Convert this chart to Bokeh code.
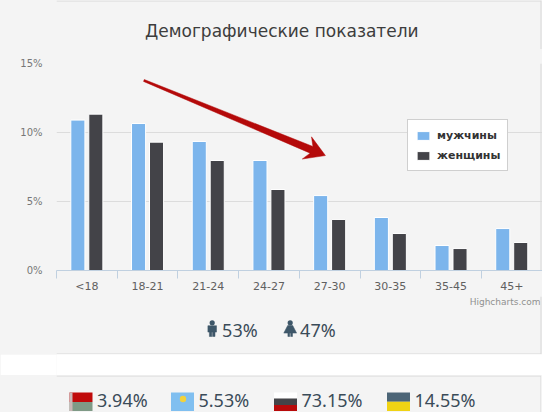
import math
import numpy as np
from bokeh.plotting import figure
from bokeh.models import (Range1d, FixedTicker, Legend, LegendItem,
                          ColumnDataSource, PrintfTickFormatter)
from bokeh.transform import dodge
from bokeh.layouts import column
from bokeh.embed import file_html
from bokeh.resources import INLINE
from bokeh.core.properties import value

# ---------------- data ----------------
title_text = "Демографические показатели"
age_groups = ["<18", "18-21", "21-24", "24-27", "27-30", "30-35", "35-45", "45+"]
men = [10.9, 10.65, 9.35, 7.97, 5.43, 3.84, 1.81, 3.04]
women = [11.33, 9.3, 7.97, 5.87, 3.7, 2.68, 1.59, 2.03]
series_names = ["мужчины", "женщины"]
y_ticks = [0, 5, 10, 15]
gender_share = [53, 47]
country_codes = ["BY", "KZ", "RU", "UA"]
country_share = [3.94, 5.53, 73.15, 14.55]
credit_text = "Highcharts.com"

# ---------------- layout / style ----------------
W = 542
PX1 = 542
BG = "#f4f4f4"
BORDER = "#d8d8d8"
BLUE, DARK = "#7cb5ec", "#434348"
TEXT_DARK = "#3a4b58"
ICON_COL = "#3e5769"
RIGHT_EDGE = 540.5
MID = 0.32   # em offset from baseline to text middle

T_TOP, T_BOT = 0, 49
A_TOP, A_BOT = 49, 296
B_TOP, B_BOT = 296, 354
G_TOP, G_BOT = 354, 375
P_TOP, P_BOT = 375, 412
FRAME_LEFT, FRAME_TOP, FRAME_BOT = 56, 63, 270
CAT_PX = 60.7
Y_MAX = 15
BAR_OFF, BAR_W = 0.148, 0.232


def page_fig(top, bot, fill):
    # the column layout aligns every plot frame with the chart's frame,
    # so page-pixel figures use the same horizontal frame (FRAME_LEFT..PX1)
    p = figure(width=W, height=bot - top, x_range=Range1d(FRAME_LEFT, PX1),
               y_range=Range1d(bot, top), x_axis_type=None, y_axis_type=None,
               toolbar_location=None, output_backend="svg", min_border=0,
               min_border_left=FRAME_LEFT, min_border_right=0,
               background_fill_color=fill, border_fill_color=fill,
               outline_line_color=None, title=None)
    return p


# ---------------- title ----------------
TITLE_SIZE = 17
figT = page_fig(T_TOP, T_BOT, BG)
figT.text(x=[281.3], y=[36 - MID * TITLE_SIZE], text=[title_text], text_align="center",
          text_baseline="middle", text_font=value("DejaVu Sans"),
          text_font_size=f"{TITLE_SIZE}px", text_color="#3d3d3d")
figT.segment(x0=[FRAME_LEFT, RIGHT_EDGE], x1=[RIGHT_EDGE, RIGHT_EDGE],
             y0=[0.5, 0], y1=[0.5, T_BOT], line_color=BORDER, line_width=1)

# ---------------- chart ----------------
x_end = (PX1 - FRAME_LEFT) / CAT_PX
figA = figure(width=W, height=A_BOT - A_TOP, x_range=Range1d(0, x_end),
              y_range=Range1d(0, Y_MAX), toolbar_location=None,
              output_backend="svg", title=None,
              min_border_left=FRAME_LEFT, min_border_right=0,
              min_border_top=FRAME_TOP - A_TOP, min_border_bottom=A_BOT - FRAME_BOT,
              background_fill_color=BG, border_fill_color=BG,
              outline_line_color=None)

n = len(age_groups)
centers = np.arange(n) + 0.5
bounds = np.arange(n + 1)

xa = figA.xaxis[0]
xa.ticker = FixedTicker(ticks=[float(c) for c in centers],
                        minor_ticks=[float(b) for b in bounds])
xa.major_label_overrides = {float(c): g for c, g in zip(centers, age_groups)}
xa.major_tick_line_color = None
xa.major_tick_out = 0
xa.major_tick_in = 0
xa.minor_tick_out = 8
xa.minor_tick_in = 0
xa.minor_tick_line_color = "#c0d0e0"
xa.axis_line_color = "#c0d0e0"
xa.major_label_standoff = 1
xa.major_label_text_font = "DejaVu Sans"
xa.major_label_text_font_size = "11px"
xa.major_label_text_color = "#606060"

ya = figA.yaxis[0]
ya.ticker = FixedTicker(ticks=y_ticks, minor_ticks=[])
ya.formatter = PrintfTickFormatter(format="%d%%")
ya.axis_line_color = None
ya.major_tick_line_color = None
ya.minor_tick_line_color = None
ya.major_tick_out = 0
ya.major_tick_in = 0
ya.major_label_standoff = 14
ya.major_label_text_font = "DejaVu Sans"
ya.major_label_text_font_size = "10px"
ya.major_label_text_color = "#777777"

figA.xgrid.visible = False
figA.ygrid.grid_line_color = "#dcdcdc"

src = ColumnDataSource(dict(x=centers, men=men, women=women))
r_m = figA.vbar(x=dodge("x", -BAR_OFF), top="men", width=BAR_W, source=src,
                fill_color=BLUE, line_color="white", line_width=1)
r_w = figA.vbar(x=dodge("x", BAR_OFF), top="women", width=BAR_W, source=src,
                fill_color=DARK, line_color="white", line_width=1)

# panel right border inside the chart area
edge_x = (RIGHT_EDGE - FRAME_LEFT) / CAT_PX
figA.segment(x0=[edge_x], x1=[edge_x], y0=[0], y1=[Y_MAX],
             line_color=BORDER, line_width=1)

# decorative arrow (tapered), defined in data units
px_x = CAT_PX
px_y = (FRAME_BOT - FRAME_TOP) / Y_MAX
tail = (1.44, 13.77)
tip = (4.43, 8.33)
dx = (tip[0] - tail[0]) * px_x
dy = -(tip[1] - tail[1]) * px_y
L = math.hypot(dx, dy)
d = (dx / L, dy / L)
nv = (-d[1], d[0])
shape = [(-L, -1.0), (-15, -3.6), (-20, -12), (0, 0), (-20, 12), (-15, 3.6), (-L, 1.0)]
ax, ay = [], []
for a, b in shape:
    ppx = a * d[0] + b * nv[0]
    ppy = a * d[1] + b * nv[1]
    ax.append(tip[0] + ppx / px_x)
    ay.append(tip[1] - ppy / px_y)
figA.patch(ax, ay, fill_color="#b40a0a", line_color="#b40a0a", line_width=0.5)

legend = Legend(items=[LegendItem(label=series_names[0], renderers=[r_m]),
                       LegendItem(label=series_names[1], renderers=[r_w])],
                location=(351, 99), orientation="vertical",
                glyph_width=16, glyph_height=11, label_height=16,
                label_standoff=6, spacing=4, padding=7, margin=0,
                border_line_color="#a0a0a0", border_line_width=1,
                background_fill_color="#ffffff", background_fill_alpha=1,
                label_text_font="DejaVu Sans", label_text_font_style="bold",
                label_text_font_size="11px", label_text_color="#333333")
figA.add_layout(legend)

# ---------------- gender row ----------------
BIG = 18
figB = page_fig(B_TOP, B_BOT, BG)
figB.text(x=[540], y=[301.7], text=[credit_text], text_align="right",
          text_baseline="middle", text_font=value("DejaVu Sans"),
          text_font_size="9px", text_color="#909090")

icon_cx = [211.7, 289.7]
icon_head_y = 322.3
xs, ys = [], []
cx = icon_cx[0]   # male: body block + legs
xs += [[cx - 4.3, cx + 4.3, cx + 4.3, cx - 4.3],
       [cx - 2.8, cx - 0.4, cx - 0.4, cx - 2.8],
       [cx + 0.4, cx + 2.8, cx + 2.8, cx + 0.4]]
ys += [[325.2, 325.2, 331.6, 331.6],
       [331.0, 331.0, 336.0, 336.0],
       [331.0, 331.0, 336.0, 336.0]]
cx = icon_cx[1]   # female: dress + legs
xs += [[cx - 2.5, cx + 2.5, cx + 6.4, cx - 6.4],
       [cx - 2.3, cx - 0.5, cx - 0.5, cx - 2.3],
       [cx + 0.5, cx + 2.3, cx + 2.3, cx + 0.5]]
ys += [[325.0, 325.0, 332.6, 332.6],
       [332.0, 332.0, 336.0, 336.0],
       [332.0, 332.0, 336.0, 336.0]]
figB.patches(xs=xs, ys=ys, fill_color=ICON_COL, line_color=ICON_COL, line_width=0.5)
figB.circle(x=icon_cx, y=[icon_head_y] * 2, radius=2.6, fill_color=ICON_COL,
            line_color=None)
figB.text(x=[221.6, 299.6], y=[335 - MID * BIG] * 2, text=[f"{g}%" for g in gender_share],
          text_align="left", text_baseline="middle",
          text_font=value("Noto Sans"), text_font_size=f"{BIG}px", text_color=TEXT_DARK)
figB.segment(x0=[FRAME_LEFT, RIGHT_EDGE], x1=[RIGHT_EDGE, RIGHT_EDGE],
             y0=[353.5, B_TOP], y1=[353.5, 353.5], line_color=BORDER, line_width=1)

# ---------------- white gap ----------------
figG = page_fig(G_TOP, G_BOT, "#ffffff")

# ---------------- countries row ----------------
figP = page_fig(P_TOP, P_BOT, BG)
figP.segment(x0=[FRAME_LEFT, RIGHT_EDGE], x1=[RIGHT_EDGE, RIGHT_EDGE],
             y0=[375.5, 375.5], y1=[375.5, P_BOT], line_color=BORDER, line_width=1)
figP.quad(left=[RIGHT_EDGE + 0.5], right=[PX1], top=[P_TOP], bottom=[P_BOT],
          fill_color="#ffffff", line_color=None)

FLAG_LEFT = [69, 170.5, 273.5, 386.5]
FLAG_W, FLAG_H, FLAG_TOP = 23, 18.5, 392
stripes = {
    "BY": [(0.0, 0.52, "#c00a0a"), (0.52, 1.0, "#7f9a86")],
    "KZ": [(0.0, 1.0, "#80bff0")],
    "RU": [(0.0, 0.33, "#ffffff"), (0.33, 0.67, "#444448"), (0.67, 1.0, "#b80a0a")],
    "UA": [(0.0, 0.5, "#4c6577"), (0.5, 1.0, "#f0d314")],
}
ql, qr, qt, qb, qc = [], [], [], [], []
for code, left in zip(country_codes, FLAG_LEFT):
    for f0, f1, col in stripes[code]:
        ql.append(left); qr.append(left + FLAG_W)
        qt.append(FLAG_TOP + f0 * FLAG_H); qb.append(FLAG_TOP + f1 * FLAG_H)
        qc.append(col)
by_left = FLAG_LEFT[country_codes.index("BY")]
ql.append(by_left); qr.append(by_left + 3)
qt.append(FLAG_TOP); qb.append(FLAG_TOP + FLAG_H); qc.append("#cbb6b6")
figP.quad(left=ql, right=qr, top=qt, bottom=qb, fill_color=qc, line_color=None)
kz_left = FLAG_LEFT[country_codes.index("KZ")]
figP.circle(x=[kz_left + 12], y=[FLAG_TOP + 6.5], radius=3.2,
            fill_color="#f2d23c", line_color=None)
figP.text(x=[l + 27.5 for l in FLAG_LEFT], y=[399.3] * 4,
          text=[f"{v:.2f}%" for v in country_share], text_align="left",
          text_baseline="middle", text_font=value("Noto Sans"),
          text_font_size=f"{BIG}px", text_color=TEXT_DARK)

layout = column(figT, figA, figB, figG, figP, spacing=0,
                styles={"background-color": BG})
open("out.html", "w").write(file_html(layout, INLINE))
